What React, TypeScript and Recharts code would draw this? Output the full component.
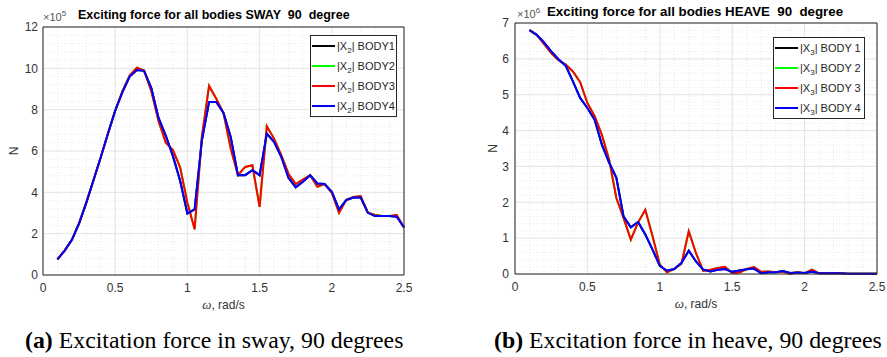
import React from "react";
import {
  LineChart,
  Line,
  XAxis,
  YAxis,
  CartesianGrid,
  ReferenceLine,
  Legend,
} from "recharts";

// frequency grid, rad/s
const omega = [
  0.1, 0.15, 0.2, 0.25, 0.3, 0.35, 0.4, 0.45, 0.5, 0.55, 0.6, 0.65, 0.7, 0.75,
  0.8, 0.85, 0.9, 0.95, 1.0, 1.05, 1.1, 1.15, 1.2, 1.25, 1.3, 1.35, 1.4, 1.45,
  1.5, 1.55, 1.6, 1.65, 1.7, 1.75, 1.8, 1.85, 1.9, 1.95, 2.0, 2.05, 2.1, 2.15,
  2.2, 2.25, 2.3, 2.35, 2.4, 2.45, 2.5,
];

// sway, x1e5 N
const swayBody3 = [
  0.76, 1.18, 1.7, 2.5, 3.5, 4.6, 5.7, 6.85, 7.95, 8.9, 9.65, 10.03, 9.9, 8.9,
  7.45, 6.4, 6.05, 5.2, 3.5, 2.21, 6.68, 9.15, 8.53, 7.84, 6.12, 4.83, 5.23,
  5.31, 3.3, 7.2, 6.6, 5.8, 4.9, 4.4, 4.62, 4.83, 4.27, 4.4, 3.98, 3.01, 3.64,
  3.78, 3.82, 3.01, 2.9, 2.85, 2.85, 2.9, 2.3,
];
const swayBody4 = [
  0.76, 1.18, 1.7, 2.5, 3.5, 4.6, 5.7, 6.85, 7.95, 8.85, 9.6, 9.92, 9.88, 9.05,
  7.6, 6.75, 5.75, 4.55, 2.98, 3.17, 6.5, 8.37, 8.37, 7.84, 6.68, 4.83, 4.83,
  5.07, 4.83, 6.84, 6.44, 5.72, 4.7, 4.24, 4.51, 4.83, 4.43, 4.4, 4.03, 3.17,
  3.62, 3.75, 3.75, 3.01, 2.85, 2.85, 2.85, 2.82, 2.3,
];
// bodies 1 and 2 lie under 4 and 3
const swayBody1 = swayBody4;
const swayBody2 = swayBody3;

// heave, x1e6 N
const heaveBody3 = [
  6.8, 6.67, 6.42, 6.16, 5.96, 5.84, 5.65, 5.35, 4.77, 4.4, 3.88, 3.19, 2.12,
  1.56, 0.96, 1.44, 1.79, 1.05, 0.26, 0.05, 0.14, 0.29, 1.19, 0.58, 0.09, 0.12,
  0.17, 0.2, 0.03, 0.04, 0.14, 0.19, 0.06, 0.07, 0.05, 0.07, 0.0, 0.05, 0.02,
  0.12, 0.02, 0.02, 0.03, 0.02, 0.01, 0.01, 0.01, 0.01, 0.01,
];
const heaveBody4 = [
  6.8, 6.67, 6.46, 6.21, 5.99, 5.81, 5.37, 4.91, 4.63, 4.3, 3.61, 3.11, 2.68,
  1.6, 1.3, 1.45, 1.1, 0.68, 0.23, 0.09, 0.14, 0.31, 0.65, 0.35, 0.12, 0.07,
  0.12, 0.14, 0.06, 0.1, 0.13, 0.15, 0.02, 0.05, 0.05, 0.08, 0.03, 0.04, 0.03,
  0.07, 0.02, 0.02, 0.02, 0.02, 0.01, 0.01, 0.01, 0.01, 0.01,
];
const heaveBody1 = heaveBody4;
const heaveBody2 = heaveBody3;

const xTicks = [0, 0.5, 1, 1.5, 2, 2.5];
const xMinor = [
  0.1, 0.2, 0.3, 0.4, 0.6, 0.7, 0.8, 0.9, 1.1, 1.2, 1.3, 1.4, 1.6, 1.7, 1.8,
  1.9, 2.1, 2.2, 2.3, 2.4,
];
const swayTicks = [0, 2, 4, 6, 8, 10, 12];
const swayMinor = [
  0.4, 0.8, 1.2, 1.6, 2.4, 2.8, 3.2, 3.6, 4.4, 4.8, 5.2, 5.6, 6.4, 6.8, 7.2,
  7.6, 8.4, 8.8, 9.2, 9.6, 10.4, 10.8, 11.2, 11.6,
];
const heaveTicks = [0, 1, 2, 3, 4, 5, 6, 7];
const heaveMinor = [
  0.2, 0.4, 0.6, 0.8, 1.2, 1.4, 1.6, 1.8, 2.2, 2.4, 2.6, 2.8, 3.2, 3.4, 3.6,
  3.8, 4.2, 4.4, 4.6, 4.8, 5.2, 5.4, 5.6, 5.8, 6.2, 6.4, 6.6, 6.8,
];

const swayNames = ["BODY1", "BODY2", "BODY3", "BODY4"];
const heaveNames = ["BODY 1", "BODY 2", "BODY 3", "BODY 4"];
const colors = ["#000000", "#00ff00", "#ff0000", "#0000ff"];

const swayRows = omega.map((w, i) => ({
  w,
  b1: swayBody1[i],
  b2: swayBody2[i],
  b3: swayBody3[i],
  b4: swayBody4[i],
}));
const heaveRows = omega.map((w, i) => ({
  w,
  b1: heaveBody1[i],
  b2: heaveBody2[i],
  b3: heaveBody3[i],
  b4: heaveBody4[i],
}));

const INK = "#262626";
const SANS = '"Liberation Sans", Arial, Helvetica, sans-serif';
const SERIF = '"Liberation Serif", "Times New Roman", serif';

function OmegaLabel({ viewBox }: any) {
  const { x, y, width } = viewBox;
  return (
    <text
      x={x + width / 2}
      y={y + 34}
      textAnchor="middle"
      fontSize={12}
      fill="#333"
      fontFamily={SANS}
    >
      <tspan fontStyle="italic" fontFamily={SERIF} fontSize={13}>
        ω
      </tspan>
      , rad/s
    </text>
  );
}

function NLabel({ viewBox, dx }: any) {
  const { x, y, height } = viewBox;
  const cx = x + dx;
  const cy = y + height / 2;
  return (
    <text
      x={cx}
      y={cy}
      textAnchor="middle"
      dominantBaseline="central"
      fontSize={12}
      fill="#333"
      fontFamily={SANS}
      transform={`rotate(-90 ${cx} ${cy})`}
    >
      N
    </text>
  );
}

function LegendBox({ payload, sub }: any) {
  return (
    <div
      style={{
        border: `1px solid ${INK}`,
        background: "#fff",
        fontFamily: SANS,
        fontSize: 11,
        color: INK,
      }}
    >
      {(payload || []).map((e: any) => (
        <div
          key={e.value}
          style={{ display: "flex", alignItems: "center", height: 20 }}
        >
          <span
            style={{
              display: "inline-block",
              width: 23,
              height: 2,
              marginLeft: 1,
              marginRight: 2,
              background: e.color,
            }}
          />
          <span style={{ whiteSpace: "nowrap" }}>
            |X
            <span
              style={{
                fontSize: 8,
                position: "relative",
                top: 3,
                lineHeight: 0,
              }}
            >
              {sub}
            </span>
            | {e.value}
          </span>
        </div>
      ))}
    </div>
  );
}

function Panel(p: any) {
  const tickStyle = { fontSize: 12, fill: "#333", fontFamily: SANS };
  return (
    <LineChart
      width={p.width}
      height={318}
      data={p.rows}
      margin={{ top: p.top, right: p.right, bottom: 0, left: 0 }}
      style={{ position: "absolute", left: p.left, top: 0 }}
    >
      <CartesianGrid stroke="#dcdcdc" strokeWidth={0.8} />
      {xMinor.map((v) => (
        <ReferenceLine
          key={"x" + v}
          x={v}
          stroke="#e3e3e3"
          strokeWidth={0.8}
          strokeDasharray="1 2"
        />
      ))}
      {p.yMinor.map((v: number) => (
        <ReferenceLine
          key={"y" + v}
          y={v}
          stroke="#e3e3e3"
          strokeWidth={0.8}
          strokeDasharray="1 2"
        />
      ))}
      <XAxis
        dataKey="w"
        type="number"
        domain={[0, 2.5]}
        ticks={xTicks}
        height={p.xHeight}
        tickLine={false}
        tickSize={0}
        tickMargin={8}
        tick={tickStyle}
        axisLine={{ stroke: INK }}
        label={<OmegaLabel />}
      />
      <YAxis
        type="number"
        domain={p.yDomain}
        ticks={p.yTicks}
        width={p.yWidth}
        tickLine={false}
        tickSize={0}
        tickMargin={p.yMargin}
        tick={tickStyle}
        axisLine={{ stroke: INK }}
        label={<NLabel dx={p.nDx} />}
      />
      <XAxis
        xAxisId="top"
        orientation="top"
        mirror
        type="number"
        domain={[0, 2.5]}
        ticks={xTicks}
        height={1}
        tick={false}
        tickSize={4}
        tickLine={{ stroke: INK }}
        axisLine={{ stroke: INK }}
      />
      <XAxis
        xAxisId="bin"
        orientation="bottom"
        mirror
        type="number"
        domain={[0, 2.5]}
        ticks={xTicks}
        height={1}
        tick={false}
        tickSize={4}
        tickLine={{ stroke: INK }}
        axisLine={false}
      />
      <YAxis
        yAxisId="right"
        orientation="right"
        mirror
        type="number"
        domain={p.yDomain}
        ticks={p.yTicks}
        width={1}
        tick={false}
        tickSize={4}
        tickLine={{ stroke: INK }}
        axisLine={{ stroke: INK }}
      />
      <YAxis
        yAxisId="lin"
        orientation="left"
        mirror
        type="number"
        domain={p.yDomain}
        ticks={p.yTicks}
        width={1}
        tick={false}
        tickSize={4}
        tickLine={{ stroke: INK }}
        axisLine={false}
      />
      {["b1", "b2", "b3", "b4"].map((k, i) => (
        <Line
          key={k}
          dataKey={k}
          name={p.names[i]}
          type="linear"
          stroke={colors[i]}
          strokeWidth={2}
          dot={false}
          isAnimationActive={false}
        />
      ))}
      <Legend
        layout="vertical"
        align="center"
        verticalAlign="middle"
        wrapperStyle={{ left: p.legendLeft, top: p.legendTop, width: p.legendWidth }}
        content={(props: any) => <LegendBox payload={props.payload} sub={p.sub} />}
      />
    </LineChart>
  );
}

export default function App() {
  return (
    <div
      style={{
        position: "absolute",
        left: 0,
        top: 0,
        width: 887,
        height: 357,
        background: "#fff",
        overflow: "hidden",
      }}
    >
      <Panel
        left={0}
        width={440}
        top={27}
        right={36}
        xHeight={43}
        yWidth={43}
        yMargin={5}
        nDx={14}
        rows={swayRows}
        yDomain={[0, 12]}
        yTicks={swayTicks}
        yMinor={swayMinor}
        names={swayNames}
        sub="2"
        legendLeft={310}
        legendTop={35}
        legendWidth={87}
      />
      <Panel
        left={445}
        width={442}
        top={23}
        right={10}
        xHeight={44}
        yWidth={70}
        yMargin={6}
        nDx={48}
        rows={heaveRows}
        yDomain={[0, 7]}
        yTicks={heaveTicks}
        yMinor={heaveMinor}
        names={heaveNames}
        sub="3"
        legendLeft={328}
        legendTop={37}
        legendWidth={92}
      />

      {/* exponents and titles */}
      <div style={{ position: "absolute", left: 43, top: 9, fontFamily: SANS, fontSize: 11, color: "#555" }}>
        ×10<sup style={{ fontSize: 8 }}>5</sup>
      </div>
      <div
        style={{
          position: "absolute",
          left: 78,
          top: 8,
          fontFamily: SANS,
          fontSize: 12.5,
          fontWeight: "bold",
          color: "#000",
          whiteSpace: "pre",
        }}
      >
        {"Exciting force for all bodies SWAY  90  degree"}
      </div>
      <div style={{ position: "absolute", left: 517, top: 6, fontFamily: SANS, fontSize: 11, color: "#555" }}>
        ×10<sup style={{ fontSize: 8 }}>6</sup>
      </div>
      <div
        style={{
          position: "absolute",
          left: 547,
          top: 4,
          fontFamily: SANS,
          fontSize: 13.3,
          fontWeight: "bold",
          color: "#000",
          whiteSpace: "pre",
        }}
      >
        {"Exciting force for all bodies HEAVE  90  degree"}
      </div>

      {/* captions */}
      <div
        style={{
          position: "absolute",
          left: 25,
          top: 327,
          fontFamily: SERIF,
          fontSize: 23.8,
          color: "#000",
          whiteSpace: "nowrap",
        }}
      >
        <b>(a)</b> Excitation force in sway, 90 degrees
      </div>
      <div
        style={{
          position: "absolute",
          left: 494,
          top: 327,
          fontFamily: SERIF,
          fontSize: 23.8,
          color: "#000",
          whiteSpace: "nowrap",
        }}
      >
        <b>(b)</b> Excitation force in heave, 90 degrees
      </div>
    </div>
  );
}
